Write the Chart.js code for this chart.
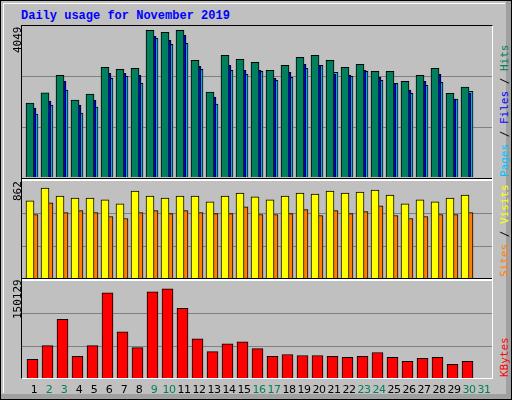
<!DOCTYPE html>
<html><head><meta charset="utf-8">
<script src="https://cdn.jsdelivr.net/npm/chart.js@4/dist/chart.umd.min.js"></script>
<style>
body{margin:0;background:#fff}
#wrap{position:relative;width:512px;height:400px;background:#c0c0c0;box-sizing:border-box;border:1px solid #000;overflow:hidden}
.panel{position:absolute;left:21px;width:470px;background:#c0c0c0}
.t{position:absolute;font-family:"DejaVu Sans Mono",monospace;font-size:11px;white-space:nowrap}
.rot{transform:rotate(-90deg);transform-origin:left top}
.day{position:absolute;top:382px;font-family:"DejaVu Sans",sans-serif;font-size:11px;width:16px;text-align:center;letter-spacing:-0.5px}
</style></head><body>
<div id="wrap">
<div style="position:absolute;left:2px;top:2px;right:6px;bottom:6px;border-left:1px solid #fff;border-top:1px solid #fff"></div>
<div style="position:absolute;left:0;bottom:0;width:512px;height:5px;background:#a0a0a0"></div>
<div style="position:absolute;right:0;top:0;width:5px;height:400px;background:#a0a0a0"></div>
<div class="t" style="left:20px;top:8px;font-weight:bold;font-size:12px;color:#0000ff;font-family:'Liberation Mono',monospace">Daily usage for November 2019</div>
<div style="position:absolute;left:20px;top:24px;width:472px;height:354px;border:1px solid #000;border-right-color:#fff;border-bottom-color:#fff;box-sizing:border-box"></div>
<div style="position:absolute;left:21px;top:177px;width:470px;height:2px;background:#fff;border-top:1px solid #000"></div>
<div style="position:absolute;left:21px;top:277px;width:470px;height:2px;background:#fff;border-top:1px solid #000"></div>
<div class="panel" style="top:25px;height:151px"><canvas id="c1"></canvas></div>
<div class="panel" style="top:180px;height:97px"><canvas id="c2"></canvas></div>
<div class="panel" style="top:280px;height:97px"><canvas id="c3"></canvas></div>
<div class="t rot" id="l1" style="left:10px;top:52px">4049</div>
<div class="t rot" id="l2" style="left:10px;top:200px">862</div>
<div class="t rot" id="l3" style="left:10px;top:318px">150129</div>
<div class="t rot" style="left:497px;top:176px"><span style="color:#00c0ff">Pages</span> / <span style="color:#0000ff">Files</span> / <span style="color:#00805c">Hits</span></div>
<div class="t rot" style="left:497px;top:276px"><span style="color:#ff8000">Sites</span> / <span style="color:#ffff00">Visits</span></div>
<div class="t rot" style="left:497px;top:376px"><span style="color:#ff0000">KBytes</span></div>
<div id="days"></div>
</div>
<script>
const days=[1,2,3,4,5,6,7,8,9,10,11,12,13,14,15,16,17,18,19,20,21,22,23,24,25,26,27,28,29,30,31];
const weekend=[2,3,9,10,16,17,23,24,30,31];
const hits=[2038,2322,2809,2121,2286,3029,2974,3002,4049,3993,4048,3222,2341,3360,3250,3167,2947,3084,3305,3360,3222,3029,3112,2919,2919,2644,2809,3002,2313,2479,null];
const files=[1900,2093,2644,1983,2121,2864,2864,2809,3883,3773,3911,3057,2203,3084,2947,2947,2726,2892,3112,3084,2837,2809,2947,2754,2589,2396,2644,2837,2148,2313,null];
const pages=[1735,1983,2396,1763,1928,2726,2782,2589,3828,3663,3690,2974,2010,2947,2837,2919,2671,2754,3002,3084,2892,2782,2919,2671,2589,2313,2534,2616,2148,2368,null];
const visits=[740,862,787,768,768,750,712,834,787,768,787,787,731,787,815,778,750,787,815,806,834,815,824,843,796,712,750,731,768,796,null];
const sites=[609,721,628,646,628,590,571,628,646,618,646,628,618,618,684,609,609,618,656,600,646,618,637,693,600,571,590,609,609,628,null];
const kbytes=[31344,54440,98982,36293,54440,143524,77536,51141,145174,150129,117129,65988,44542,57740,61039,49491,36293,39593,37943,37943,36293,34644,36293,42892,34644,28045,32994,34644,23096,28045,null];
const tickLabels=[4049,862,150129];

const dd=document.getElementById('days');
days.forEach((d,i)=>{const e=document.createElement('div');e.className='day';e.style.left=(25+15*i)+'px';e.style.color=weekend.includes(d)?'#00805c':'#000';e.textContent=d;dd.appendChild(e);});

const grid={id:'g',beforeDatasetsDraw(c){const y=c.scales.y,ctx=c.ctx;ctx.save();ctx.strokeStyle='#808080';ctx.lineWidth=1;
 [1,2].forEach(k=>{const p=Math.round(y.getPixelForValue(y.max*k/3))+0.5;ctx.beginPath();ctx.moveTo(0,p);ctx.lineTo(c.width,p);ctx.stroke();});ctx.restore();}};
function pts(arr,off){return arr.map((v,i)=>({x:i+off,y:v}));}
function ds(arr,off,color,w){return {data:pts(arr,off),backgroundColor:color,borderColor:'#000',borderWidth:1,barThickness:w,grouped:false,borderSkipped:'bottom'};}
function make(id,sets,max){
 return new Chart(document.getElementById(id),{type:'bar',data:{datasets:sets},
 options:{responsive:true,maintainAspectRatio:false,animation:false,events:[],
  layout:{padding:0},plugins:{legend:{display:false},tooltip:{enabled:false}},
  scales:{x:{type:'linear',offset:false,bounds:'data',min:-0.8,max:30.533,display:false,grid:{offset:false}},y:{min:0,max:max,display:false}}},plugins:[grid]});
}
make('c1',[ds(hits,-4/15,'#00805c',8),ds(files,-2/15,'#0000ff',8),ds(pages,0,'#00c0ff',8)],tickLabels[0]*454/441);
make('c2',[ds(visits,-4/15,'#ffff00',8),ds(sites,0,'#ff8000',8)],tickLabels[1]*298/276);
make('c3',[ds(kbytes,-1.5/15,'#ff0000',11)],tickLabels[2]*297/273);
['l1','l2','l3'].forEach((id,i)=>document.getElementById(id).textContent=tickLabels[i]);
</script></body></html>
